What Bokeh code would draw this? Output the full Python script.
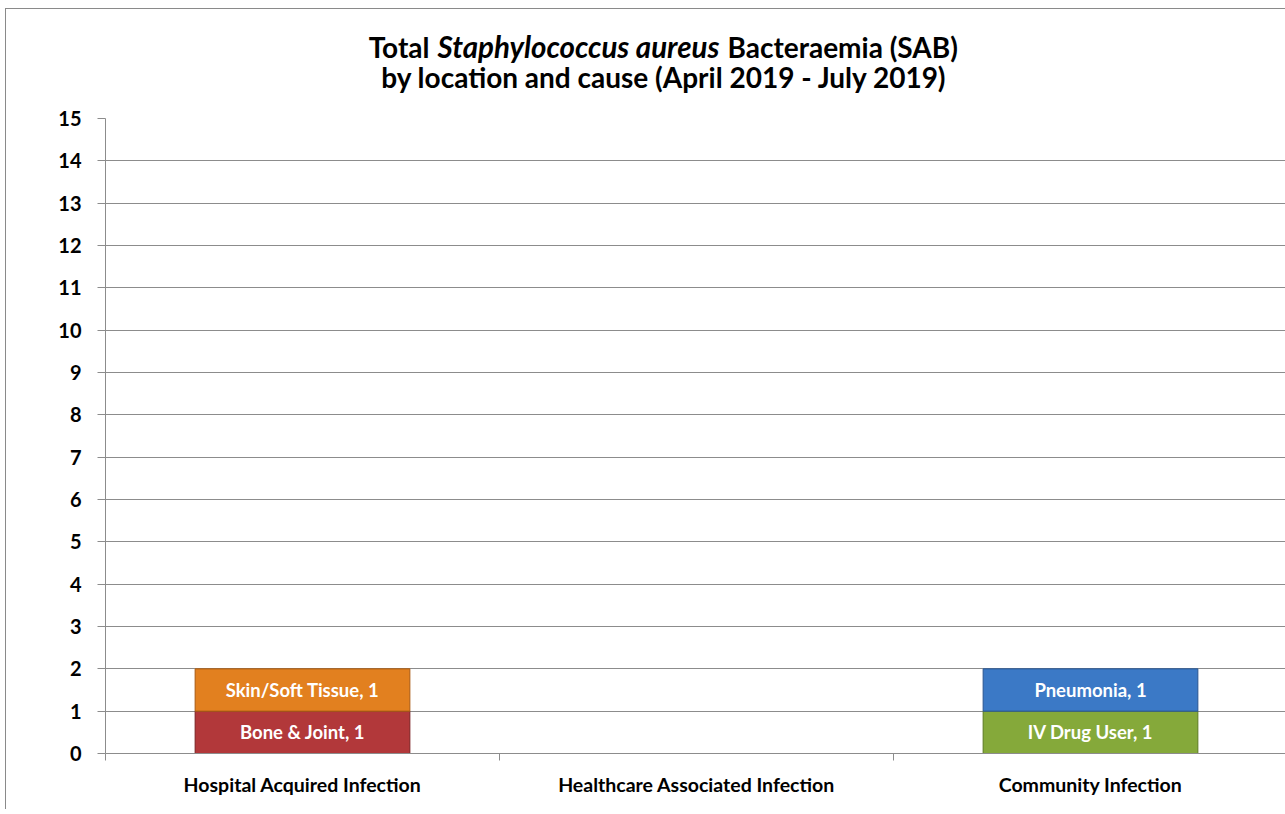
from bokeh.plotting import figure
from bokeh.models import Range1d, FixedTicker, ColumnDataSource
from bokeh.layouts import column
from bokeh.embed import file_html
from bokeh.resources import INLINE
from bokeh.core.properties import value

categories = ["Hospital Acquired Infection", "Healthcare Associated Infection", "Community Infection"]
series_names = ["Bone & Joint", "Skin/Soft Tissue", "IV Drug User", "Pneumonia"]
bone_joint = [1, 0, 0]
skin_soft = [1, 0, 0]
iv_drug = [0, 0, 1]
pneumonia = [0, 0, 1]
series_values = [bone_joint, skin_soft, iv_drug, pneumonia]
series_colors = ["#B2383A", "#E2801F", "#85A93A", "#3B79C6"]
series_lines = ["#7A2022", "#A85A12", "#5C7A22", "#2A5590"]
y_ticks = list(range(0, 16))
title_pieces = ["Total", "Staphylococcus aureus", "Bacteraemia (SAB)"]
title_line2 = "by location and cause (April 2019 - July 2019)"

FONT = "Lato"
W = 1279
TH = 95          # title strip height
H = 705          # main plot height
LB = 99          # left border (frame starts at page x = 105)
PX_X = 394.0     # pixels per category

# ---------- title strip (x in canvas pixels, y in pixels from strip bottom) ----------
t = figure(width=W, height=TH, output_backend="svg", toolbar_location=None,
           x_range=Range1d(LB, W), y_range=Range1d(0, TH),
           x_axis_type=None, y_axis_type=None,
           min_border_left=LB, min_border_right=0, min_border_top=0, min_border_bottom=0)
t.outline_line_color = None
t.xgrid.grid_line_color = None
t.ygrid.grid_line_color = None
common = dict(text_font=value(FONT), text_color="#000000", text_baseline="alphabetic")
t.text(x=[423], y=[58], text=[title_pieces[0]], text_align="right",
       text_font_style="bold", text_font_size="28px", **common)
t.text(x=[572], y=[58], text=[title_pieces[1]], text_align="center",
       text_font_style="bold italic", text_font_size="29.5px", **common)
t.text(x=[721], y=[58], text=[title_pieces[2]], text_align="left",
       text_font_style="bold", text_font_size="28px", **common)
t.text(x=[658], y=[28], text=[title_line2], text_align="center",
       text_font_style="bold", text_font_size="28px", **common)

# ---------- main chart ----------
p = figure(width=W, height=H, output_backend="svg", toolbar_location=None,
           x_range=Range1d(0, 1180 / PX_X), y_range=Range1d(0, 15),
           min_border_left=LB, min_border_top=14, min_border_bottom=56, min_border_right=0)
p.outline_line_color = None

p.xgrid.grid_line_color = None
p.ygrid.grid_line_color = "#8c8c8c"
p.ygrid.grid_line_width = 1
p.ygrid.ticker = FixedTicker(ticks=y_ticks[1:])

p.yaxis.ticker = FixedTicker(ticks=y_ticks)
p.yaxis.axis_line_color = "#8c8c8c"
p.yaxis.major_tick_line_color = "#8c8c8c"
p.yaxis.major_tick_out = 8
p.yaxis.major_tick_in = 0
p.yaxis.minor_tick_line_color = None
p.yaxis.major_label_text_font = FONT
p.yaxis.major_label_text_font_style = "bold"
p.yaxis.major_label_text_font_size = "20px"
p.yaxis.major_label_text_color = "#000000"
p.yaxis.major_label_standoff = 16

centers = [i + 0.5 for i in range(len(categories))]
bounds = [float(i) for i in range(len(categories) + 1)]
p.xaxis.ticker = FixedTicker(ticks=centers, minor_ticks=bounds)
p.xaxis.major_label_overrides = {c: lab for c, lab in zip(centers, categories)}
p.xaxis.axis_line_color = "#8c8c8c"
p.xaxis.major_tick_line_color = None
p.xaxis.minor_tick_line_color = "#8c8c8c"
p.xaxis.minor_tick_out = 7
p.xaxis.minor_tick_in = 0
p.xaxis.major_label_text_font = FONT
p.xaxis.major_label_text_font_style = "bold"
p.xaxis.major_label_text_font_size = "19.5px"
p.xaxis.major_label_text_color = "#000000"
p.xaxis.major_label_standoff = 12

bar_w = 0.545
bottoms = [0] * len(categories)
lx, ly, lt = [], [], []
for name, vals, col, lc in zip(series_names, series_values, series_colors, series_lines):
    tops = [b + v for b, v in zip(bottoms, vals)]
    idx = [i for i, v in enumerate(vals) if v > 0]
    src = ColumnDataSource(dict(x=[centers[i] for i in idx],
                                bottom=[bottoms[i] for i in idx],
                                top=[tops[i] for i in idx]))
    p.vbar(x="x", bottom="bottom", top="top", width=bar_w, source=src,
           fill_color=col, line_color=lc, line_width=1)
    for i in idx:
        lx.append(centers[i])
        ly.append((bottoms[i] + tops[i]) / 2)
        lt.append(f"{name}, {vals[i]}")
    bottoms = tops

p.text(x=lx, y=ly, text=lt, text_color="white", text_font=value(FONT),
       text_font_style="bold", text_font_size="18.5px",
       text_align="center", text_baseline="middle")

layout = column(t, p, spacing=0)
layout.styles = {"margin-left": "5px", "margin-top": "8px",
                 "border-left": "1px solid #8a8a8a", "border-top": "1px solid #8a8a8a"}

open("out.html", "w").write(file_html(layout, INLINE))
